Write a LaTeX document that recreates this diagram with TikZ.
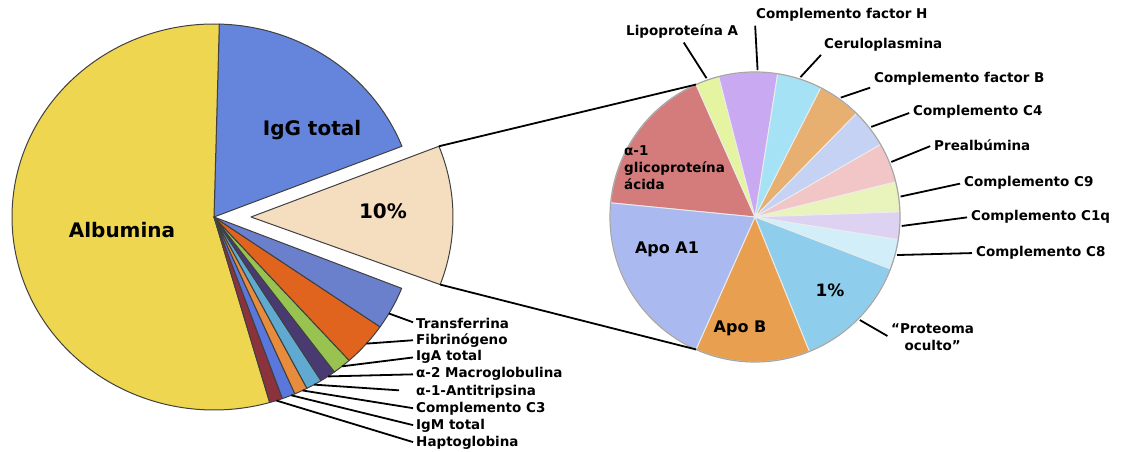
\documentclass[tikz,border=0pt]{standalone}
\usepackage{fontspec}
\setmainfont{DejaVu Sans}
\definecolor{albyellow}{HTML}{EFD650}
\definecolor{iggblue}{HTML}{6585DC}
\definecolor{restpeach}{HTML}{F5DDC0}
\definecolor{trfblue}{HTML}{6A80CC}
\definecolor{fibrorange}{HTML}{E0641E}
\definecolor{igagreen}{HTML}{98C350}
\definecolor{macpurple}{HTML}{4A3A72}
\definecolor{antcyan}{HTML}{60AAD2}
\definecolor{cthorange}{HTML}{E68C3C}
\definecolor{igmblue}{HTML}{5A78DC}
\definecolor{haptred}{HTML}{8C323C}
\definecolor{glicred}{HTML}{D47C7C}
\definecolor{lipogreen}{HTML}{E4F4A0}
\definecolor{fhpurple}{HTML}{C9AAF2}
\definecolor{cercyan}{HTML}{A6E2F6}
\definecolor{fbtan}{HTML}{E8B070}
\definecolor{cfourblue}{HTML}{C6D2F4}
\definecolor{prepink}{HTML}{F2C6C6}
\definecolor{cninegreen}{HTML}{E8F4BC}
\definecolor{conelav}{HTML}{DED2F2}
\definecolor{ceightcyan}{HTML}{D2EEF8}
\definecolor{hidcyan}{HTML}{8ECDEC}
\definecolor{apobor}{HTML}{E8A050}
\definecolor{apoablue}{HTML}{AABAF0}
\def \pieLx {214}
\def \pieLy {235}
\def \pieLrx {202}
\def \pieLry {193}
\def \explode {37}
\def \pieRx {755}
\def \pieRy {235}
\def \pieRr {145}
\def \labx {415}
\def \labsep {17.1}
\tikzstyle{slice}=[draw=black!75, line width=1pt, line join=round]
\tikzstyle{rslice}=[draw=white!85!gray, line width=0.9pt]
\tikzstyle{bigtxt}=[font=\bfseries\fontsize{20}{24}\selectfont]
\tikzstyle{midtxt}=[font=\bfseries\fontsize{16}{19}\selectfont]
\tikzstyle{labtxt}=[font=\bfseries\fontsize{13.5}{17}\selectfont, inner sep=1pt]
\tikzstyle{lead}=[black, line width=1.8pt]
\pgfdeclarelayer{slices}
\pgfsetlayers{slices,main}

\begin{document}
\begin{tikzpicture}[x=1pt, y=1pt]
\useasboundingbox (0,0) rectangle (1143,452);
\coordinate (L) at (\pieLx, \pieLy);
\coordinate (E) at (\pieLx + \explode, \pieLy);
\coordinate (R) at (\pieRx, \pieRy);

\begin{pgfonlayer}{slices}
\foreach \a/\b/\col in {21.5/88.5/iggblue, 88.5/286/albyellow, 286/289.8/haptred, 289.8/293.6/igmblue, 293.6/297.4/cthorange, 297.4/302/antcyan, 302/306.6/macpurple, 306.6/312/igagreen, 312/325.3/fibrorange, 325.3/338.3/trfblue}
    \filldraw[slice, fill=\col] (L) -- ++(\a:{\pieLrx} and {\pieLry}) arc[start angle=\a, end angle=\b, x radius=\pieLrx, y radius=\pieLry] -- cycle;

\filldraw[slice, fill=restpeach] (E) -- ++(-20.5:{\pieLrx} and {\pieLry}) arc[start angle=-20.5, end angle=21.5, x radius=\pieLrx, y radius=\pieLry] -- cycle;

\foreach \a/\b/\col in {114/174.4/glicred, 104.5/114/lipogreen, 81/104.5/fhpurple, 63/81/cercyan, 45.6/63/fbtan, 30/45.6/cfourblue, 14/30/prepink, 2/14/cninegreen, -9/2/conelav, -21/-9/ceightcyan, -68/-21/hidcyan, -114/-68/apobor, 174.4/246/apoablue}
    \filldraw[rslice, fill=\col] (R) -- ++(\a:\pieRr) arc[start angle=\a, end angle=\b, radius=\pieRr] -- cycle;
\draw[gray!70, line width=1.2pt] (R) circle[radius=\pieRr];
\end{pgfonlayer}

\path (E) ++(21.5:{\pieLrx} and {\pieLry}) coordinate (et);
\path (E) ++(-20.5:{\pieLrx} and {\pieLry}) coordinate (eb);
\path (R) ++(114:\pieRr) coordinate (rt);
\path (R) ++(246:\pieRr) coordinate (rb);
\draw[lead] (et) -- (rt);
\draw[lead] (eb) -- (rb);

\node[bigtxt] (alb) at (122, 222) {Albumina};
\node[bigtxt] (igg) at (312, 322) {IgG total};
\node[bigtxt] (rest) at (383, 241) {10\%};
\node[midtxt] (apoa) at (667, 203) {Apo A1};
\node[midtxt] (apob) at (740, 124) {Apo B};
\node[midtxt, font=\bfseries\fontsize{17}{20}\selectfont] (hid) at (830, 162) {1\%};
\node[labtxt, anchor=west, align=left] (glic) at (623, 284) {α-1\\glicoproteína\\ácida};

\foreach \txt [count=\nm from 0] in {Transferrina, Fibrinógeno, IgA total, α-2 Macroglobulina, α-1-Antitripsina, Complemento C3, IgM total, Haptoglobina}
    \node[labtxt, anchor=west] (lab\nm) at (\labx, 129 - \nm * \labsep) {\txt};

\foreach \nm/\m/\s in {0/-30/2, 1/-41/2, 2/-50.7/2, 3/-55.7/2, 4/-60.3/16, 5/-64/2, 6/-67.5/2, 7/-72/2}
{
    \path (L) ++(\m:{\pieLrx} and {\pieLry}) coordinate (p\nm);
    \draw[lead, shorten >=\s pt] (p\nm) -- (lab\nm.west);
}

\foreach \m/\nm/\x/\y/\anc/\txt in {109.25/lipo/625/420/south/{Lipoproteína A}, 89/facth/755/437/south west/{Complemento factor H}, 72/cerul/823/407/south west/{Ceruloplasmina}, 54.3/factb/873/373/south west/{Complemento factor B}, 37.8/cfour/912/340/west/{Complemento C4}, 22/preal/933/307/west/{Prealbúmina}, 8/cnine/963/269/west/{Complemento C9}, -3.5/cone/970/235/west/{Complemento C1q}, -15/ceight/975/199/west/{Complemento C8}, -44.5/hidden/890/114.5/west/{“Proteoma\\oculto”}}
{
    \node[labtxt, anchor=west, align=center] (\nm) at (\x, \y) {\txt};
    \path (R) ++(\m:\pieRr + 2) coordinate (q\nm);
    \draw[lead, shorten >=3pt] (q\nm) -- (\nm.\anc);
}

\end{tikzpicture}
\end{document}
